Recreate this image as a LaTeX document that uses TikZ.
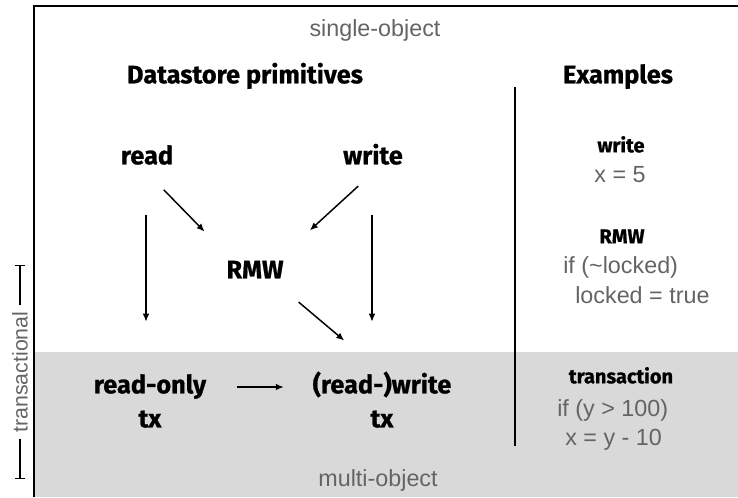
\documentclass[tikz,border=0pt]{standalone}
\usepackage{fontspec}
\setmainfont{Liberation Sans}
\newfontfamily\headfont{Fira Sans}[BoldFeatures={FakeBold=0.8}]
\usetikzlibrary{arrows.meta}

\definecolor{labelgray}{RGB}{100,100,100}
\definecolor{txfill}{RGB}{217,217,217}

\begin{document}
\begin{tikzpicture}[x=0.75pt,y=-0.75pt,
  prim/.style={font=\headfont\bfseries\fontsize{19}{22}\selectfont,
    inner sep=2pt, text height=13.5pt, text depth=4pt},
  exhead/.style={font=\headfont\bfseries\fontsize{15}{18}\selectfont,
    text height=11pt, text depth=3pt},
  axis/.style={font=\fontsize{17.5}{20}\selectfont, text=labelgray},
  extext/.style={axis, anchor=west, inner xsep=0pt},
  arr/.style={-{Latex[length=6pt,width=5pt]}, line width=1.1pt}]

  \useasboundingbox (0,0) rectangle (738,497);

  % Shaded multi-object band
  \fill[txfill] (35,352) rectangle (738,497);

  % Frame
  \coordinate (corner) at (34,6);
  \draw[line width=1.5pt] (34,497) -- (corner) -- (738,6);

  % Axis labels
  \node[axis] (single) at (375,30) {single-object};
  \node[axis] (multi) at (378,480) {multi-object};
  \node[axis, font=\fontsize{16}{19}\selectfont, rotate=90, inner xsep=5pt] (trans) at (20,372) {transactional};
  \coordinate (transtop) at (20,265);
  \coordinate (transbot) at (20,479);
  \draw[-{Bar[width=8pt]}, line width=1pt] (trans.east) -- (transtop);
  \draw[-{Bar[width=8pt]}, line width=1pt] (trans.west) -- (transbot);

  % Column heads
  \node[prim] (prims) at (245,77) {Datastore primitives};
  \node[prim] (examples) at (618,77) {Examples};

  % Divider
  \coordinate (divtop) at (515,87);
  \coordinate (divbot) at (515,446);
  \draw[line width=1.3pt] (divtop) -- (divbot);

  % Primitives
  \node[prim] (read) at (147,158) {read};
  \node[prim] (write) at (373,158) {write};
  \node[prim] (rmw) at (255,272) {RMW};
  \node[prim] (ro) at (150,387) {read-only};
  \node[prim] (rotx) at (150,421) {tx};
  \node[prim] (rw) at (382,387) {(read-)write};
  \node[prim] (rwtx) at (382,421) {tx};

  % Arrows between primitives
  \draw[arr, shorten <=32pt, shorten >=38pt] ([xshift=-0.75pt]read.south) -- ([xshift=-0.75pt]read.south |- ro.north);
  \draw[arr, shorten <=32pt, shorten >=38pt] ([xshift=-0.75pt]write.south) -- ([xshift=-0.75pt]write.south |- rw.north);
  \draw[arr, shorten <=18pt, shorten >=27pt] (read.south) -- (rmw.150);
  \draw[arr, shorten <=15pt, shorten >=30pt] (write.south) -- (rmw.30);
  \draw[arr, shorten <=18pt, shorten >=37pt] (rmw.-30) -- (rw.north);
  \draw[arr, shorten <=21pt, shorten >=19.5pt] (ro.east) -- (rw.west);

  % Examples
  \node[exhead] (exwrite) at (621,147) {write};
  \node[axis] (exwritecode) at (620,175) {x = 5};
  \node[exhead] (exrmw) at (622,238) {RMW};
  \node[extext] (exrmwif) at (563,267) {if (\textasciitilde locked)};
  \node[extext] (exrmwset) at (575,295) {locked = true};
  \node[exhead] (extx) at (621,378) {transaction};
  \node[extext] (extxif) at (557,410) {if (y > 100)};
  \node[extext] (extxset) at (565,440) {x = y - 10};
\end{tikzpicture}
\end{document}
